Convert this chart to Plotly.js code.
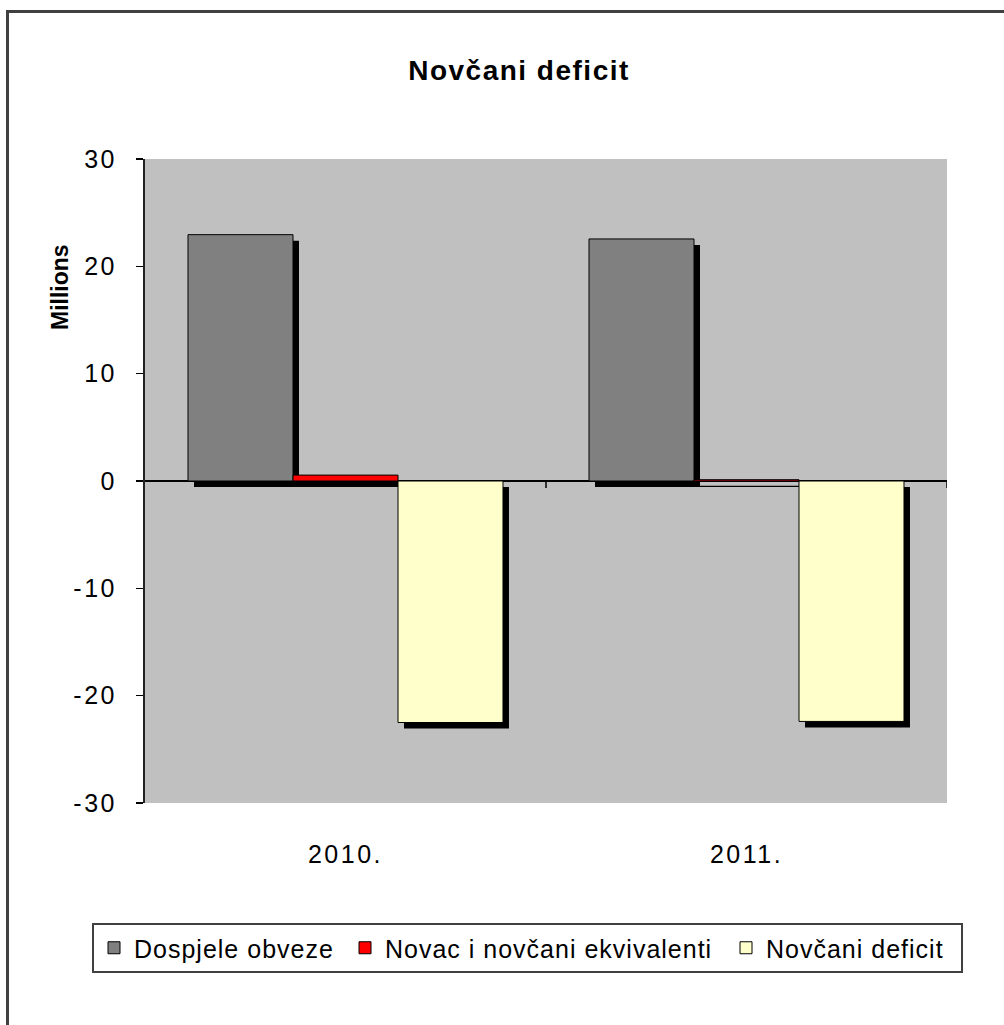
<!DOCTYPE html>
<html><head><meta charset="utf-8">
<script src="https://cdn.plot.ly/plotly-3.0.1.min.js"></script>
<style>
html,body{margin:0;padding:0;background:#fff;overflow:hidden;width:1004px;height:1025px;}
#frame{position:absolute;left:6px;top:10px;width:1100px;height:1100px;border-left:3px solid #404040;border-top:3px solid #404040;}
#chart{position:absolute;left:0;top:0;width:1004px;height:1025px;}
.xtick text,.ytick text{letter-spacing:2.5px;}
.legendtext{letter-spacing:1px;}
.gtitle{letter-spacing:1.5px;}
</style></head>
<body><div id="frame"></div><div id="chart"></div>
<script>
// ---- data ----
const categories = ['2010.', '2011.'];
const seriesNames = ['Dospjele obveze', 'Novac i novčani ekvivalenti', 'Novčani deficit'];
const dospjeleObveze = [22.95, 22.55];
const novacEkvivalenti = [0.55, 0.12];
const novcaniDeficit = [-22.5, -22.4];
const yTickValues = [-30, -20, -10, 0, 10, 20, 30];

// ---- style ----
const FONT = 'Liberation Sans, Arial, sans-serif';
const colors = ['#808080', '#FF0000', '#FFFFCC'];
const legendWidths = [206, 336, 190];
const series = [dospjeleObveze, novacEkvivalenti, novcaniDeficit];
const bargap = 0.2145;
const groupW = 1 - bargap;
const barW = groupW / series.length;
const plotWpx = 802, plotHpx = 644;
const yRange = [-30, 30];
const shadowPx = 6;
const dx = shadowPx / (plotWpx / categories.length);
const dy = shadowPx / (plotHpx / (yRange[1] - yRange[0]));

const traces = [];
// shadows first
series.forEach((vals, i) => {
  traces.push({
    type: 'bar', x: categories, y: vals,
    base: vals.map(() => -dy),
    offset: -groupW / 2 + i * barW + dx, width: barW,
    marker: {color: '#000000', line: {width: 0}},
    showlegend: false, hoverinfo: 'skip'
  });
});
series.forEach((vals, i) => {
  traces.push({
    type: 'bar', name: seriesNames[i], x: categories, y: vals,
    offset: -groupW / 2 + i * barW, width: barW,
    legendwidth: legendWidths[i],
    marker: {color: colors[i], line: {color: '#000000', width: 1}}
  });
});

// small tick marks on the zero line at category boundaries
const shapes = [];
for (let k = 1; k <= categories.length; k++) {
  shapes.push({
    type: 'line', xref: 'x', yref: 'y', x0: k - 0.5, x1: k - 0.5,
    ysizemode: 'pixel', yanchor: 0, y0: 0, y1: -7,
    line: {color: '#000', width: 1.5}, layer: 'above'
  });
}

const layout = {
  width: 1004, height: 1025,
  margin: {l: 145, r: 57, t: 159, b: 222, pad: 0},
  paper_bgcolor: 'rgba(0,0,0,0)',
  plot_bgcolor: '#C0C0C0',
  barmode: 'overlay',
  font: {family: FONT, color: '#000'},
  title: {
    text: 'Novčani deficit', font: {family: FONT, size: 28, weight: 'bold', color: '#000'},
    xref: 'container', yref: 'container', x: 519 / 1004, xanchor: 'center',
    y: 1 - 70 / 1025, yanchor: 'middle'
  },
  xaxis: {
    type: 'category', range: [-0.5, categories.length - 0.5],
    showgrid: false, zeroline: false, showline: false, ticks: '',
    tickfont: {family: FONT, size: 25, color: '#000'},
    ticklabelstandoff: 34, fixedrange: true
  },
  yaxis: {
    range: yRange, tickvals: yTickValues, ticktext: yTickValues.map(String),
    showgrid: false, zeroline: true, zerolinecolor: '#000', zerolinewidth: 1.5,
    showline: true, linecolor: '#222', linewidth: 2,
    ticks: 'outside', ticklen: 7, tickcolor: '#000', tickwidth: 1.5,
    tickfont: {family: FONT, size: 25, color: '#000'},
    ticklabelstandoff: 14, fixedrange: true
  },
  shapes: shapes,
  annotations: [{
    text: 'Millions', textangle: -90, showarrow: false,
    xref: 'paper', yref: 'paper', x: (60 - 145) / plotWpx, y: (803 - 287) / plotHpx,
    xanchor: 'center', yanchor: 'middle',
    font: {family: FONT, size: 23, weight: 'bold', color: '#000'}
  }],
  legend: {
    orientation: 'h', x: (92 - 145) / plotWpx, xanchor: 'left',
    y: (803 - 923) / plotHpx, yanchor: 'top',
    bgcolor: '#FFFFFF', bordercolor: '#404040', borderwidth: 2,
    font: {family: FONT, size: 25, color: '#000'},
    traceorder: 'normal'
  },
  showlegend: true
};

Plotly.newPlot('chart', traces, layout, {displayModeBar: false, staticPlot: true});
</script>
</body></html>
